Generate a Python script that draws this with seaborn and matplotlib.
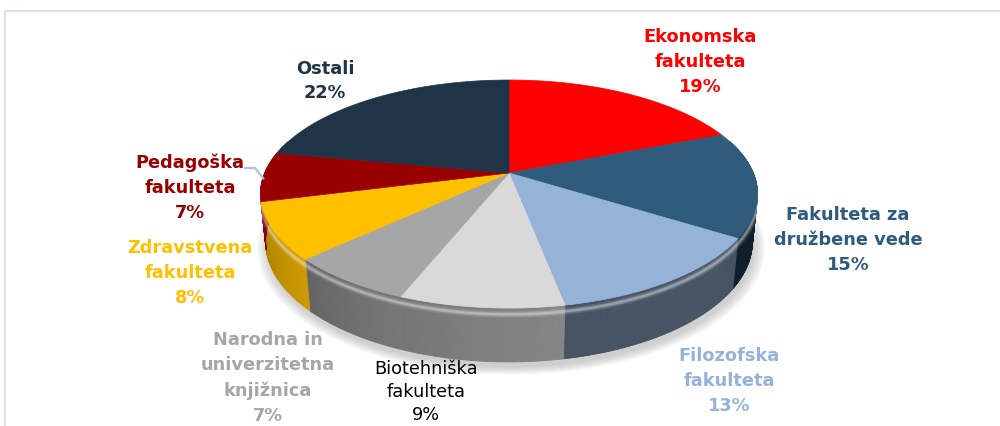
import numpy as np
import matplotlib
matplotlib.use("Agg")
import matplotlib.pyplot as plt
import seaborn as sns
from matplotlib.patches import Polygon, Rectangle
from matplotlib.collections import PolyCollection

sns.set_theme(style="white")
plt.rcParams['font.family'] = ['DejaVu Sans']

# ---- data ----
categories = ["Ekonomska\nfakulteta", "Fakulteta za\ndružbene vede", "Filozofska\nfakulteta",
              "Biotehniška\nfakulteta", "Narodna in\nuniverzitetna\nknjižnica",
              "Zdravstvena\nfakulteta", "Pedagoška\nfakulteta", "Ostali"]
shares = [19, 15, 13, 9, 7, 8, 7, 22]
slice_colors = ["#FF0000", "#2F5B7C", "#95B3D7", "#D9D9D9", "#A6A6A6", "#FFC000", "#990000", "#203447"]
label_colors = ["#FF0000", "#2F5B7C", "#95B3D7", "#000000", "#A6A6A6", "#FFC000", "#990000", "#203447"]
label_bold = [True, True, True, False, True, True, True, True]
label_pos = [(700, 62), (848, 240), (729, 381), (426, 392), (268, 378), (190, 273), (190, 188), (325, 81)]

palette = sns.color_palette(slice_colors)

# ---- projection of a tilted disc (perspective) ----
CX, CY = 509.0, 174.0
D, F = 4.837, 1181.5
S, C = 0.451, 0.8925
H = 0.219

def proj(phi_deg, r=1.0, h=0.0):
    phi = np.radians(phi_deg)
    X = r * np.sin(phi)
    Z = -r * np.cos(phi)
    depth = D + h * S - Z * C
    xs = CX + F * X / depth
    up = (-h * C - Z * S) / depth * F
    return xs, CY - up

fig = plt.figure(figsize=(10, 4.27), dpi=100)
ax = fig.add_axes([0, 0, 1, 1])
ax.set_xlim(0, 1000)
ax.set_ylim(427, 0)
ax.axis("off")

# frame
ax.add_patch(Rectangle((5, 12), 1100, 600, fill=False, edgecolor="#D6E2EE", lw=1.6, zorder=0))

total = float(sum(shares))
bounds = np.concatenate([[0], np.cumsum(shares)]) / total * 360.0

# shadow
for k in range(8):
    rr = 1.0 + 0.006 * k
    ang = np.linspace(0, 360, 200)
    xs, ys = proj(ang, r=rr, h=H + 0.01)
    ax.add_patch(Polygon(np.column_stack([xs + 2, ys + 3]), closed=True,
                         facecolor="#8A8A8A", edgecolor="none", alpha=0.06, zorder=1))

# side faces
quads, qcols = [], []
for i, (a0, a1) in enumerate(zip(bounds[:-1], bounds[1:])):
    base = np.array(palette[i])
    n = max(4, int((a1 - a0) / 0.5))
    angs = np.linspace(a0, a1, n + 1)
    for j in range(n):
        p0, p1 = angs[j], angs[j + 1]
        mid = 0.5 * (p0 + p1)
        if np.cos(np.radians(mid)) > 0.3:
            continue
        t = (mid - a0) / (a1 - a0)
        g = np.clip(0.32 + 0.52 * (mid - 90) / 180.0, 0.3, 0.95)
        loc = 1.12 - 0.28 * t
        col = np.clip(base * g * loc, 0, 1)
        x0t, y0t = proj(p0)
        x1t, y1t = proj(p1)
        x0b, y0b = proj(p0, h=H)
        x1b, y1b = proj(p1, h=H)
        quads.append([(x0t, y0t), (x1t, y1t), (x1b, y1b), (x0b, y0b)])
        qcols.append(col)
pc = PolyCollection(quads, facecolors=qcols, edgecolors=qcols, linewidths=0.6, zorder=2)
ax.add_collection(pc)

# rim highlight (bevel)
ang = np.linspace(70, 290, 300)
for w, a in [(5, 0.10), (3, 0.18), (1.5, 0.25)]:
    xs, ys = proj(ang, h=0.025)
    ax.plot(xs, ys, color="white", lw=w, alpha=a, zorder=3, solid_capstyle="butt")

# top faces
for i, (a0, a1) in enumerate(zip(bounds[:-1], bounds[1:])):
    angs = np.linspace(a0, a1, 120)
    xs, ys = proj(angs)
    pts = np.vstack([[CX, CY], np.column_stack([xs, ys])])
    ax.add_patch(Polygon(pts, closed=True, facecolor=palette[i], edgecolor=palette[i],
                         lw=0.5, zorder=4))

# labels
for i, cat in enumerate(categories):
    txt = f"{cat}\n{shares[i]}%"
    x, y = label_pos[i]
    ax.text(x, y, txt, ha="center", va="center", fontsize=12.8,
            fontweight="bold" if label_bold[i] else "normal",
            color=label_colors[i], linespacing=1.5 if label_bold[i] else 1.38, zorder=6)

# leader line for Pedagoška fakulteta
mid_ped = 0.5 * (bounds[6] + bounds[7])
lx, ly = proj(mid_ped)
ax.plot([245, 255, lx], [169, 169, ly + 2], color="#A9C3DC", lw=1.6, zorder=5)

fig.savefig("out.png", dpi=100)
